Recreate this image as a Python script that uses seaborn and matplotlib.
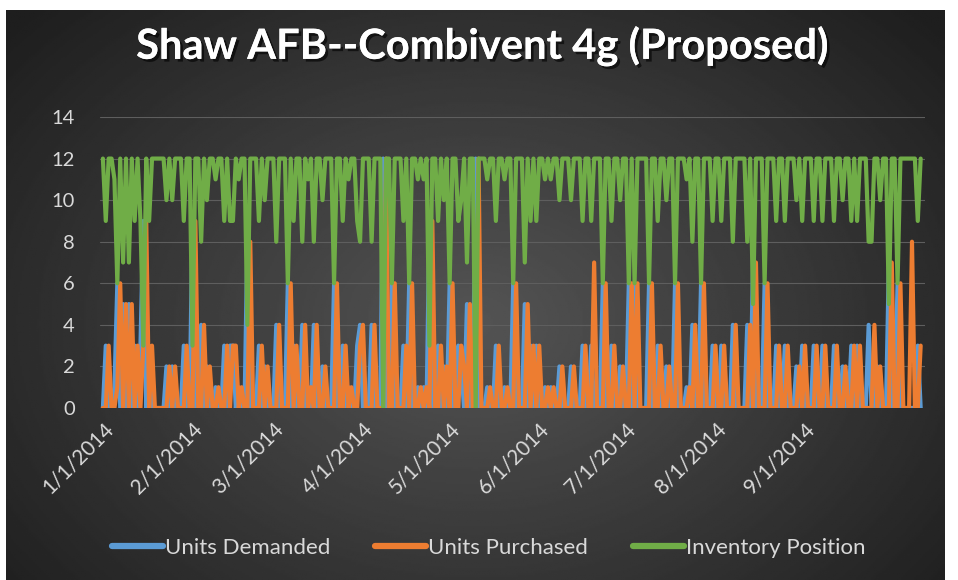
"""
Shaw AFB -- Combivent 4g (Proposed)
Daily units demanded / purchased and inventory position, Jan - Oct 2014
"""
import numpy as np
import pandas as pd
import matplotlib
matplotlib.use('Agg')
import matplotlib.pyplot as plt
import matplotlib.patheffects as pe
from matplotlib.lines import Line2D
import seaborn as sns

sns.set_theme(style='dark')
plt.rcParams['font.family'] = ['Lato', 'DejaVu Sans']

# ---- data (one row per month) ----
start_date = '2014-01-01'

units_demanded = [
    0, 3, 0, 0, 1, 6, 0, 5, 0, 5, 0, 3, 0, 3, 9, 0, 3, 0, 0, 0, 0, 0, 2, 0, 2, 0, 0, 0, 3, 0, 0,   # Jan
    9, 0, 0, 4, 0, 2, 0, 0, 1, 0, 0, 3, 0, 3, 3, 0, 1, 0, 0, 8, 0, 0, 0, 3, 0, 2, 0, 0,            # Feb
    0, 4, 0, 0, 0, 6, 0, 3, 0, 0, 4, 0, 1, 0, 4, 0, 0, 2, 0, 0, 0, 6, 0, 0, 3, 0, 1, 0, 0, 3, 4,   # Mar
    0, 0, 0, 4, 0, 0, 0, 12, 0, 0, 6, 0, 0, 0, 3, 0, 6, 0, 0, 1, 0, 1, 0, 9, 0, 0, 3, 0, 2, 0,     # Apr
    6, 0, 0, 3, 2, 0, 5, 0, 0, 12, 0, 0, 0, 1, 0, 0, 3, 0, 0, 1, 0, 0, 6, 0, 0, 0, 5, 0, 3, 0, 3,  # May
    0, 0, 1, 0, 1, 0, 0, 2, 0, 0, 0, 2, 0, 0, 0, 3, 0, 0, 3, 0, 0, 0, 6, 0, 0, 3, 0, 0, 2, 0,      # Jun
    0, 6, 0, 6, 0, 0, 0, 0, 6, 0, 0, 3, 0, 0, 2, 0, 0, 6, 0, 0, 0, 1, 0, 4, 0, 0, 6, 0, 0, 0, 3,   # Jul
    0, 0, 3, 0, 0, 0, 4, 0, 0, 0, 0, 4, 0, 7, 0, 0, 0, 6, 0, 0, 0, 3, 0, 0, 3, 0, 0, 0, 2, 0, 3,   # Aug
    0, 0, 0, 3, 0, 0, 3, 0, 0, 0, 3, 0, 0, 2, 0, 0, 3, 0, 3, 0, 0, 0, 4, 0, 0, 2, 0, 0, 0, 7,      # Sep
    0, 0, 6, 0, 0, 0, 0, 0, 0, 3, 0,                                                               # Oct
]

units_purchased = [
    0, 0, 3, 0, 0, 1, 6, 0, 5, 0, 5, 0, 3, 0, 3, 9, 0, 3, 0, 0, 0, 0, 0, 2, 0, 2, 0, 0, 0, 3, 0,   # Jan
    0, 9, 0, 0, 4, 0, 2, 0, 0, 1, 0, 0, 3, 0, 3, 3, 0, 1, 0, 0, 8, 0, 0, 0, 3, 0, 2, 0,            # Feb
    0, 0, 4, 0, 0, 0, 6, 0, 3, 0, 0, 4, 0, 1, 0, 4, 0, 0, 2, 0, 0, 0, 6, 0, 0, 3, 0, 1, 0, 0, 3,   # Mar
    4, 0, 0, 0, 4, 0, 0, 0, 12, 0, 0, 6, 0, 0, 0, 3, 0, 6, 0, 0, 1, 0, 1, 0, 9, 0, 0, 3, 0, 2,     # Apr
    0, 6, 0, 0, 3, 2, 0, 5, 0, 0, 12, 0, 0, 0, 1, 0, 0, 3, 0, 0, 1, 0, 0, 6, 0, 0, 0, 5, 0, 3, 0,  # May
    3, 0, 0, 1, 0, 1, 0, 0, 2, 0, 0, 0, 2, 0, 0, 0, 3, 0, 0, 7, 0, 0, 0, 6, 0, 0, 3, 0, 0, 2,      # Jun
    0, 0, 6, 0, 6, 0, 0, 0, 0, 6, 0, 0, 3, 0, 0, 2, 0, 0, 6, 0, 0, 0, 1, 0, 4, 0, 0, 6, 0, 0, 0,   # Jul
    3, 0, 0, 3, 0, 0, 0, 4, 0, 0, 0, 0, 4, 0, 7, 0, 0, 0, 6, 0, 0, 0, 3, 0, 0, 3, 0, 0, 0, 2, 0,   # Aug
    3, 0, 0, 0, 3, 0, 0, 3, 0, 0, 0, 3, 0, 0, 2, 0, 0, 3, 0, 3, 0, 0, 0, 0, 4, 0, 2, 0, 0, 0,      # Sep
    7, 0, 0, 6, 0, 0, 0, 8, 0, 0, 3,                                                               # Oct
]

inventory_position = [
    12, 9, 12, 12, 11, 6, 12, 7, 12, 7, 12, 9, 12, 9, 3, 12, 9, 12, 12, 12, 12, 12, 10, 12, 10, 12, 12, 12, 9, 12, 12,  # Jan
    3, 12, 12, 8, 12, 10, 12, 12, 11, 12, 12, 9, 12, 9, 9, 12, 11, 12, 12, 4, 12, 12, 12, 9, 12, 10, 12, 12,            # Feb
    12, 8, 12, 12, 12, 6, 12, 9, 12, 12, 8, 12, 11, 12, 8, 12, 12, 10, 12, 12, 12, 6, 12, 12, 9, 12, 11, 12, 12, 9, 8,  # Mar
    12, 12, 12, 8, 12, 12, 12, 0, 12, 12, 6, 12, 12, 12, 9, 12, 6, 12, 12, 11, 12, 11, 12, 3, 12, 12, 9, 12, 10, 12,    # Apr
    6, 12, 12, 9, 10, 12, 7, 12, 12, 0, 12, 12, 12, 11, 12, 12, 9, 12, 12, 11, 12, 12, 6, 12, 12, 12, 7, 12, 9, 12, 9,  # May
    12, 12, 11, 12, 11, 12, 12, 10, 12, 12, 12, 10, 12, 12, 12, 9, 12, 12, 9, 12, 12, 12, 6, 12, 12, 9, 12, 12, 10, 12,  # Jun
    12, 6, 12, 6, 12, 12, 12, 12, 6, 12, 12, 9, 12, 12, 10, 12, 12, 6, 12, 12, 12, 11, 12, 8, 12, 12, 6, 12, 12, 12, 9,   # Jul
    12, 12, 9, 12, 12, 12, 8, 12, 12, 12, 12, 8, 12, 5, 12, 12, 12, 6, 12, 12, 12, 9, 12, 12, 9, 12, 12, 12, 10, 12, 9,   # Aug
    12, 12, 12, 9, 12, 12, 9, 12, 12, 12, 9, 12, 12, 10, 12, 12, 9, 12, 9, 12, 12, 12, 8, 8, 12, 12, 10, 12, 12, 5,      # Sep
    12, 12, 6, 12, 12, 12, 12, 12, 12, 9, 12,                                                                              # Oct
]

series_names = ['Units Demanded', 'Units Purchased', 'Inventory Position']
series_colors = ['#5B9BD5', '#ED7D31', '#70AD47']
tick_labels = ['1/1/2014', '2/1/2014', '3/1/2014', '4/1/2014', '5/1/2014',
               '6/1/2014', '7/1/2014', '8/1/2014', '9/1/2014']
y_ticks = [0, 2, 4, 6, 8, 10, 12, 14]

dates = pd.date_range(start_date, periods=len(units_demanded), freq='D')
df = pd.DataFrame({'date': dates,
                   'Units Demanded': units_demanded,
                   'Units Purchased': units_purchased,
                   'Inventory Position': inventory_position})
long_df = df.melt(id_vars='date', var_name='series', value_name='units')

# ---- figure + dark radial background ----
W, H = 958, 580
fig = plt.figure(figsize=(W / 100, H / 100), dpi=100)
fig.patch.set_facecolor('white')

bg = fig.add_axes([6 / W, 0, 939 / W, 570 / H])
yy, xx = np.mgrid[0:1:300j, 0:1:500j]
r = np.sqrt(((xx - 0.5) / 0.62) ** 2 + ((yy - 0.55) / 0.75) ** 2)
shade = np.clip(0.33 - 0.2 * r, 0.12, 0.35)
bg.imshow(shade, cmap='gray', vmin=0, vmax=1, aspect='auto', extent=[0, 1, 0, 1])
bg.set_axis_off()

# ---- main plot ----
ax = fig.add_axes([100 / W, 1 - 408 / H, 825 / W, 291 / H])
ax.patch.set_alpha(0)
sns.lineplot(data=long_df, x='date', y='units', hue='series',
             hue_order=series_names, palette=series_colors,
             linewidth=3.0, errorbar=None, legend=False, ax=ax)

ax.set_ylim(0, 14)
ax.set_yticks(y_ticks)
ax.set_xlim(dates[0] - pd.Timedelta(days=1), dates[-1] + pd.Timedelta(days=1.5))
ax.set_xticks(pd.to_datetime(tick_labels, format='%m/%d/%Y'))
ax.set_xticklabels(tick_labels, rotation=45, ha='right', rotation_mode='anchor')
ax.tick_params(axis='x', colors='#d9d9d9', labelsize=15, length=0, pad=8)
ax.tick_params(axis='y', colors='#d9d9d9', labelsize=14.5, length=0, pad=18)
ax.set_xlabel('')
ax.set_ylabel('')
ax.grid(axis='y', color='#5e5e5e', linewidth=0.8)
ax.grid(axis='x', visible=False)
for s in ax.spines.values():
    s.set_visible(False)

# ---- title ----
fig.text(0.503, 1 - 46 / H, 'Shaw AFB--Combivent 4g (Proposed)',
         ha='center', va='center', fontsize=30, fontweight='bold', color='white',
         path_effects=[pe.withSimplePatchShadow(offset=(2, -2), shadow_rgbFace='black', alpha=0.6),
                       pe.Normal()])

# ---- legend ----
handles = [Line2D([0], [0], color=c, linewidth=4.5) for c in series_colors]
fig.legend(handles, series_names, loc='center', bbox_to_anchor=(0.51, 1 - 548 / H),
           ncol=3, frameon=False, handlelength=2.3, handletextpad=0.1,
           columnspacing=2.0, fontsize=16, labelcolor='#d9d9d9')

fig.savefig('out.png', dpi=100)
